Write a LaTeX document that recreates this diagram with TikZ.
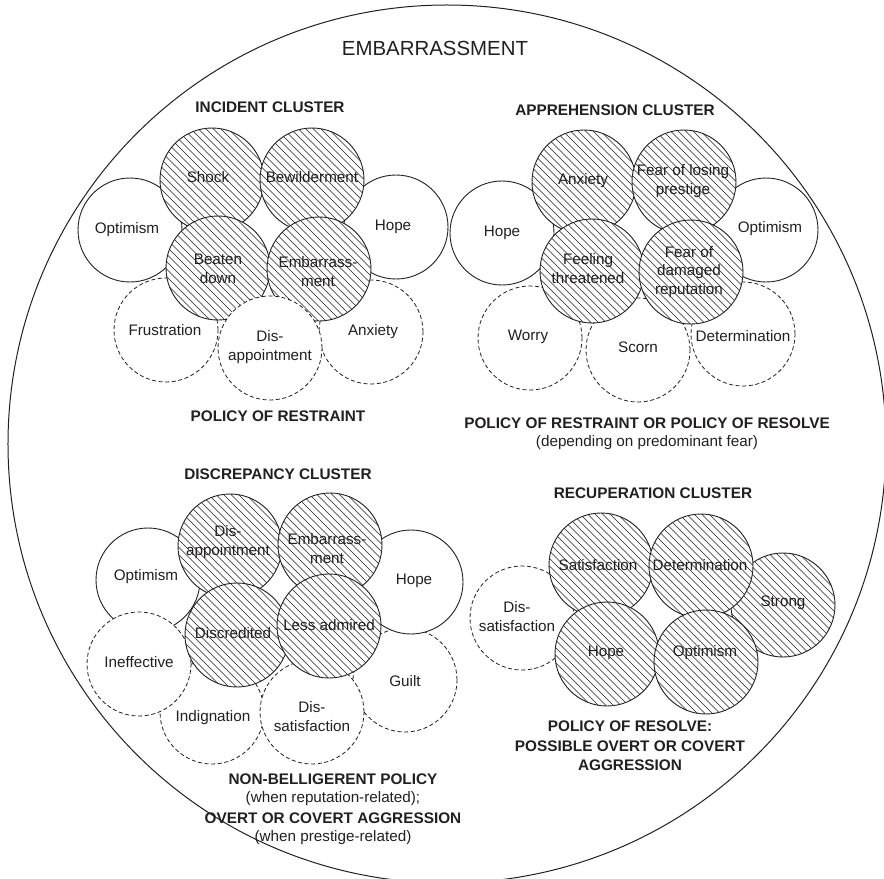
\documentclass[tikz,border=0pt]{standalone}
\usepackage{fontspec}
\setmainfont{Liberation Sans}
\definecolor{ink}{HTML}{231F20}
\begin{document}
\begin{tikzpicture}[x=1bp,y=-1bp,
  every node/.style={text=ink},
  bubble/.style={circle, minimum size=104bp, inner sep=0pt, fill=white, draw=ink, line width=0.9bp},
  firm/.style={bubble},
  loose/.style={bubble, line width=0.8bp, dash pattern=on 4bp off 2.6bp},
  hatched/.style={bubble, path picture={
      \foreach \k in {-11,...,11}
        \draw[ink, line width=0.65bp] (path picture bounding box.center) ++(\k*7.5-60,-60) -- ++(120,120);}},
  word/.style={font=\fontsize{15.3}{19}\selectfont, align=center, inner sep=0pt},
  head/.style={font=\fontsize{15.4}{19.5}\selectfont\bfseries, align=center, inner sep=0pt},
  note/.style={font=\fontsize{15.3}{20}\selectfont, align=center, inner sep=0pt},
]
\useasboundingbox (0,0) rectangle (884,879);
\clip (0,0) rectangle (884,879);

% outer frame
\node[circle, draw=ink, line width=1bp, minimum size=878bp, inner sep=0pt] (frame) at (447,444) {};
\node[font=\fontsize{20.5}{24}\selectfont, inner sep=0pt] (title) at (435,48) {EMBARRASSMENT};

% ---------- incident cluster ----------
\node[loose] (i-frus) at (166,330) {};
\node[loose] (i-anx) at (371,332) {};
\node[firm] (i-opt) at (130,230) {};
\node[firm] (i-hope) at (396,227) {};
\node[hatched] (i-shock) at (212,180) {};
\node[hatched] (i-bew) at (312,180) {};
\node[hatched] (i-beat) at (218,268) {};
\node[hatched] (i-emb) at (319,269) {};
\node[loose] (i-dis) at (270,348) {};

% ---------- apprehension cluster ----------
\node[loose] (a-worry) at (530,338) {};
\node[loose] (a-scorn) at (638,350) {};
\node[loose] (a-det) at (743,334) {};
\node[firm] (a-hope) at (502,233) {};
\node[firm] (a-opt) at (766,230) {};
\node[hatched] (a-anx) at (584,182) {};
\node[hatched] (a-pres) at (684,182) {};
\node[hatched] (a-threat) at (592,271) {};
\node[hatched] (a-rep) at (691,272) {};

% ---------- discrepancy cluster ----------
\node[loose] (d-guilt) at (405,680) {};
\node[firm] (d-hope) at (411,582) {};
\node[firm] (d-opt) at (148,580) {};
\node[loose] (d-indig) at (212,712) {};
\node[loose] (d-dissat) at (312,712) {};
\node[loose] (d-ineff) at (139,664) {};
\node[hatched] (d-disapp) at (230,546) {};
\node[hatched] (d-emb) at (330,545) {};
\node[hatched] (d-discr) at (237,635) {};
\node[hatched] (d-less) at (329,626) {};

% ---------- recuperation cluster ----------
\node[loose] (r-dissat) at (522,618) {};
\node[hatched] (r-strong) at (783,605) {};
\node[hatched] (r-sat) at (601,565) {};
\node[hatched] (r-det) at (701,566) {};
\node[hatched] (r-hope) at (607,654) {};
\node[hatched] (r-opt) at (706,662) {};

% ---------- labels ----------
\node[head] (li-head) at (270,107) {INCIDENT CLUSTER};
\node[word] (li-shock) at (208,177) {Shock};
\node[word] (li-bew) at (312,177) {Bewilderment};
\node[word] (li-opt) at (127,230) {Optimism};
\node[word] (li-hope) at (393,227) {Hope};
\node[word] (li-beat) at (218,269) {Beaten\\down};
\node[word] (li-emb) at (318,272) {Embarrass-\\ment};
\node[word] (li-frus) at (165,330) {Frustration};
\node[word] (li-dis) at (270,347) {Dis-\\appointment};
\node[word] (li-anx) at (373,332) {Anxiety};
\node[head] (li-pol) at (278,416) {POLICY OF RESTRAINT};

\node[head] (la-head) at (615,110) {APPREHENSION CLUSTER};
\node[word] (la-anx) at (583,181) {Anxiety};
\node[word] (la-pres) at (683,181) {Fear of losing\\prestige};
\node[word] (la-hope) at (502,233) {Hope};
\node[word] (la-opt) at (770,229) {Optimism};
\node[word] (la-threat) at (588,269) {Feeling\\threatened};
\node[word] (la-rep) at (689,272) {Fear of\\damaged\\reputation};
\node[word] (la-worry) at (528,337) {Worry};
\node[word] (la-scorn) at (638,347) {Scorn};
\node[word] (la-det) at (743,336) {Determination};
\node[head] (la-pol) at (647,423) {POLICY OF RESTRAINT OR POLICY OF RESOLVE};
\node[note] (la-note) at (647,443) {(depending on predominant fear)};

\node[head] (ld-head) at (278,474) {DISCREPANCY CLUSTER};
\node[word] (ld-disapp) at (228,542) {Dis-\\appointment};
\node[word] (ld-emb) at (327,549) {Embarrass-\\ment};
\node[word] (ld-opt) at (146,577) {Optimism};
\node[word] (ld-hope) at (414,581) {Hope};
\node[word] (ld-discr) at (233,633) {Discredited};
\node[word] (ld-less) at (329,625) {Less admired};
\node[word] (ld-ineff) at (139,662) {Ineffective};
\node[word] (ld-indig) at (213,718) {Indignation};
\node[word] (ld-dissat) at (312,717) {Dis-\\satisfaction};
\node[word] (ld-guilt) at (405,681) {Guilt};
\node[head] (ld-pol1) at (333,779) {NON-BELLIGERENT POLICY};
\node[note] (ld-note1) at (333,799) {(when reputation-related);};
\node[head] (ld-pol2) at (333,818) {OVERT OR COVERT AGGRESSION};
\node[note] (ld-note2) at (333,838) {(when prestige-related)};

\node[head] (lr-head) at (653,493) {RECUPERATION CLUSTER};
\node[word] (lr-sat) at (598,565) {Satisfaction};
\node[word] (lr-det) at (700,565) {Determination};
\node[word] (lr-strong) at (783,603) {Strong};
\node[word] (lr-dissat) at (517,617) {Dis-\\satisfaction};
\node[word] (lr-hope) at (606,653) {Hope};
\node[word] (lr-opt) at (705,653) {Optimism};
\node[head] (lr-pol) at (630,746) {POLICY OF RESOLVE:\\POSSIBLE OVERT OR COVERT\\AGGRESSION};
\end{tikzpicture}
\end{document}
